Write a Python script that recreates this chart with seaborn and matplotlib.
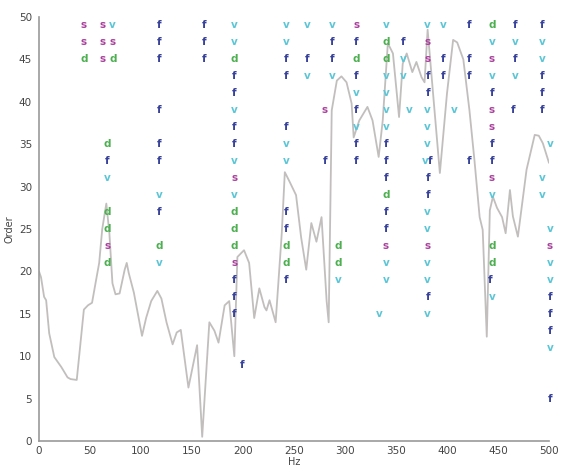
import matplotlib
matplotlib.use("Agg")
import matplotlib.pyplot as plt
import seaborn as sns

# gray curve
line_hz = [0, 2, 5, 7, 10, 15, 22, 28, 31, 37, 44, 48, 52, 56, 59, 62, 66, 69, 72, 75,
           79, 84, 86, 88, 93, 101, 105, 110, 116, 120, 125, 131, 135, 139, 146.5, 155, 160,
           167, 172, 176, 182, 186.5, 191.5, 194.5, 201, 206, 211, 216, 221, 223, 226, 232,
           238, 241, 246, 252, 257, 262, 267, 272, 277, 282, 284, 287, 292, 296.5, 301.5,
           306.5, 308.5, 314, 322, 327, 333, 337, 342, 347, 353, 356.6, 360.5, 363.5, 366,
           370, 375, 378, 381, 393, 400, 406, 410, 416, 422, 427, 432, 435, 439, 442, 445,
           449, 454, 457.5, 461.7, 464.6, 469.5, 478, 486, 490, 494, 500]
line_order = [20, 19.3, 17, 16.6, 12.7, 9.9, 8.7, 7.5, 7.3, 7.2, 15.5, 16.0, 16.3, 19, 21,
              25, 28, 24.5, 18.6, 17.3, 17.4, 20.2, 21, 19.8, 17.5, 12.4, 14.5, 16.5, 17.7,
              16.8, 14, 11.4, 12.8, 13.1, 6.3, 11.3, 0.5, 14, 13, 11.6, 16, 16.5, 10, 21.7,
              22.5, 21, 14.5, 18, 15.8, 15.4, 16.6, 14, 24.5, 31.7, 30.5, 29, 24, 20.2, 25.7,
              23.5, 26.4, 16.5, 14, 39, 42.5, 43, 42.3, 39.8, 35.8, 37.8, 39.4, 37.8, 33.5,
              37.8, 46.9, 45.7, 38.2, 44.5, 45.7, 44.5, 43.5, 44.7, 42.9, 42.3, 48.5, 31.6,
              41, 47.3, 47, 45, 39, 33, 26.4, 24.9, 12.3, 27.2, 28.8, 27.5, 26.4, 24.5, 29.6,
              26.5, 24.1, 32, 36.1, 36, 35.1, 32.8]

# letter markers: s
s_hz = [44, 44, 62, 62, 62, 67, 72, 191.5, 191.5, 280, 311, 340, 381, 381, 381,
        444, 444, 444, 444, 501]
s_order = [49, 47, 49, 47, 45, 23, 47, 31, 21, 39, 49, 23, 47, 45, 23,
           45, 39, 37, 31, 23]

# f
f_hz = [67, 118, 118, 118, 118, 118, 118, 118, 162, 162, 162,
        191.5, 191.5, 191.5, 191.5, 191.5, 191.5, 191.5, 199.5,
        242, 242, 242, 242, 242, 242, 263, 280, 287, 287,
        311, 311, 311, 311, 311, 340, 340, 340, 340, 340, 357,
        381, 381, 383, 381, 381, 381, 396, 396, 422, 422, 422, 422,
        444, 444, 444, 442, 467, 467, 465, 493, 493, 493, 493,
        501, 501, 501, 501]
f_order = [33, 49, 47, 45, 39, 35, 33, 27, 49, 47, 45,
           43, 41, 37, 35, 19, 17, 15, 9,
           45, 43, 37, 27, 25, 19, 45, 33, 47, 45,
           47, 43, 39, 35, 33, 35, 33, 31, 27, 25, 47,
           43, 41, 33, 31, 29, 17, 45, 43, 49, 45, 43, 33,
           41, 35, 33, 19, 49, 45, 39, 49, 43, 41, 39,
           17, 15, 13, 5]

# d
d_hz = [44, 67, 67, 67, 67, 73, 118, 191.5, 191.5, 191.5, 191.5, 242, 242, 293, 293,
        311, 340, 340, 340, 444, 444, 444]
d_order = [45, 35, 27, 25, 21, 45, 23, 45, 27, 25, 23, 23, 21, 23, 21,
           45, 47, 45, 29, 49, 23, 21]

# v
v_hz = [67, 72, 118, 118, 191.5, 191.5, 191.5, 191.5, 191.5, 242, 242, 242, 242,
        263, 263, 287, 287, 293, 311, 311, 340, 340, 340, 340, 340, 340, 340, 334,
        357, 357, 363, 381, 381, 381, 381, 379, 381, 381, 381, 381, 381, 396, 407,
        444, 444, 444, 444, 467, 467, 493, 493, 493, 493, 501, 501, 501, 501, 501]
v_order = [31, 49, 29, 21, 49, 47, 39, 33, 29, 49, 47, 35, 33,
           49, 43, 49, 43, 19, 41, 37, 49, 43, 41, 39, 37, 21, 19, 15,
           45, 43, 39, 49, 39, 37, 35, 33, 27, 25, 21, 19, 15, 49, 39,
           47, 43, 29, 17, 47, 43, 47, 45, 31, 29, 35, 25, 21, 19, 11]

letter_colors = {"s": "#a8409c", "f": "#38429a", "d": "#4caf50", "v": "#5cc6d6"}

sns.set_style("white")
plt.rcParams["font.family"] = ["DejaVu Sans"]

fig = plt.figure(figsize=(5.63, 4.75), dpi=100)
ax = fig.add_axes([39 / 563, 34 / 475, 510 / 563, 424 / 475])

sns.lineplot(x=line_hz, y=line_order, color="#c2bebe", linewidth=1.3, ax=ax)

for ch, xs, ys in [("s", s_hz, s_order), ("f", f_hz, f_order),
                   ("d", d_hz, d_order), ("v", v_hz, v_order)]:
    for x, y in zip(xs, ys):
        ax.text(x, y, ch, color=letter_colors[ch], fontsize=7.5, fontweight="bold",
                ha="center", va="center", clip_on=False)

ax.set_xlim(0, 500)
ax.set_ylim(0, 50)
ax.set_xticks(range(0, 501, 50))
ax.set_yticks(range(0, 51, 5))
ax.tick_params(axis="x", direction="in", length=3, labelsize=7.5, colors="#555555",
               labelcolor="#444444")
ax.tick_params(axis="y", direction="out", length=3, labelsize=7.5, colors="#555555",
               labelcolor="#444444", pad=2)
ax.spines["top"].set_visible(False)
ax.spines["right"].set_visible(False)
for sp in ["left", "bottom"]:
    ax.spines[sp].set_color("#999999")
    ax.spines[sp].set_linewidth(1.2)

ax.set_xlabel("Hz", fontsize=7, color="#444444", labelpad=1)
ax.set_ylabel("Order", fontsize=7, color="#444444", labelpad=3)

fig.savefig("out.png", dpi=100)
